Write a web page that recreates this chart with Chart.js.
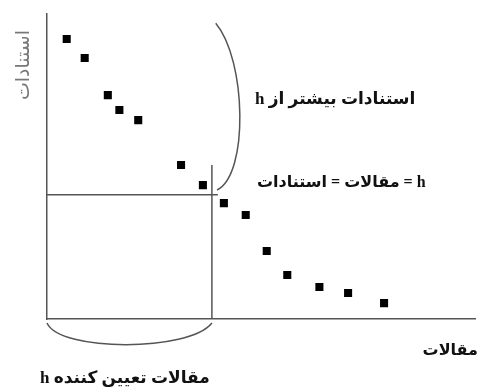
<!DOCTYPE html>
<html>
<head>
<meta charset="utf-8">
<script src="https://cdn.jsdelivr.net/npm/chart.js@4.4.1/dist/chart.umd.min.js"></script>
<style>
  body { margin: 0; background: #fff; }
  #hChart { display: block; }
</style>
</head>
<body>
<canvas id="hChart" width="481" height="387"></canvas>
<script>
// papers sorted by citations (x = paper rank, y = citations)
const paperRank = [4.6, 8.8, 14.2, 16.9, 21.3, 31.3, 36.4, 41.3, 46.4, 51.3, 56.1, 63.6, 70.3, 78.7];
const citations = [91.8, 85.6, 73.4, 68.5, 65.2, 50.5, 43.9, 38.0, 34.1, 22.3, 14.4, 10.5, 8.5, 5.2];

// the h square
const hLineX = [0, 39.9];
const hLineY = [40.7, 40.7];
const hVertX = [38.5, 38.5];
const hVertY = [50.5, 0];

// brackets (start, control 1, control 2, end)
const rightBraceX = [39.4, 46.6, 47.1, 39.7];
const rightBraceY = [97.0, 84.9, 47.2, 42.3];
const bottomBraceX = [0, 3.0, 33.2, 38.5];
const bottomBraceY = [-1.3, -10.8, -10.8, -1.3];

const labels = {
    yTitle: 'استنادات',
    xTitle: 'مقالات',
    above: 'استنادات بیشتر از h',
    equal: 'h = مقالات = استنادات',
    core: 'مقالات تعیین کننده h'
};

const toPoints = (xs, ys) => xs.map((x, i) => ({x: x, y: ys[i]}));

const annotate = {
    id: 'annotate',
    afterDraw(chart) {
        const ctx = chart.ctx;
        const sx = chart.scales.x, sy = chart.scales.y;
        const brace = (xs, ys) => {
            const p = xs.map((x, i) => [sx.getPixelForValue(x), sy.getPixelForValue(ys[i])]);
            ctx.beginPath();
            ctx.moveTo(p[0][0], p[0][1]);
            ctx.bezierCurveTo(p[1][0], p[1][1], p[2][0], p[2][1], p[3][0], p[3][1]);
            ctx.stroke();
        };
        ctx.save();
        ctx.strokeStyle = '#555';
        ctx.lineWidth = 1.5;
        brace(rightBraceX, rightBraceY);
        brace(bottomBraceX, bottomBraceY);

        ctx.direction = 'rtl';
        ctx.textBaseline = 'middle';
        ctx.fillStyle = '#111';
        ctx.textAlign = 'left';
        ctx.font = 'bold 17px "Liberation Serif", "DejaVu Sans"';
        ctx.fillText(labels.above, 255, 100);
        ctx.fillText(labels.core, 40, 379);
        ctx.font = 'bold 16px "Liberation Serif", "DejaVu Sans"';
        ctx.fillText(labels.equal, 257, 183);
        ctx.textAlign = 'right';
        ctx.fillText(labels.xTitle, 478, 351);

        ctx.fillStyle = '#777';
        ctx.font = '19px "Liberation Serif", "DejaVu Sans"';
        ctx.translate(24, 65);
        ctx.rotate(-Math.PI / 2);
        ctx.textAlign = 'center';
        ctx.fillText(labels.yTitle, 0, 0);
        ctx.restore();
    }
};

const lineStyle = {
    showLine: true,
    pointRadius: 0,
    borderColor: '#555',
    borderWidth: 1.5
};

const ctx = document.getElementById('hChart').getContext('2d');
const hChart = new Chart(ctx, {
    type: 'scatter',
    data: {
        datasets: [
            Object.assign({data: toPoints(hLineX, hLineY)}, lineStyle),
            Object.assign({data: toPoints(hVertX, hVertY)}, lineStyle),
            {
                data: toPoints(paperRank, citations),
                pointStyle: 'rect',
                pointRadius: 5.7,
                backgroundColor: '#000',
                borderColor: '#000',
                borderWidth: 0
            }
        ]
    },
    options: {
        responsive: false,
        animation: false,
        layout: {padding: {left: 47, top: 14, right: 0, bottom: 68}},
        plugins: {legend: {display: false}, tooltip: {enabled: false}},
        scales: {
            x: {
                min: 0, max: 100,
                ticks: {display: false},
                grid: {display: false, drawTicks: false},
                border: {display: true, color: '#555', width: 1.5}
            },
            y: {
                min: 0, max: 100,
                ticks: {display: false},
                grid: {display: false, drawTicks: false},
                border: {display: true, color: '#555', width: 1.5}
            }
        }
    },
    plugins: [annotate]
});
</script>
</body>
</html>
